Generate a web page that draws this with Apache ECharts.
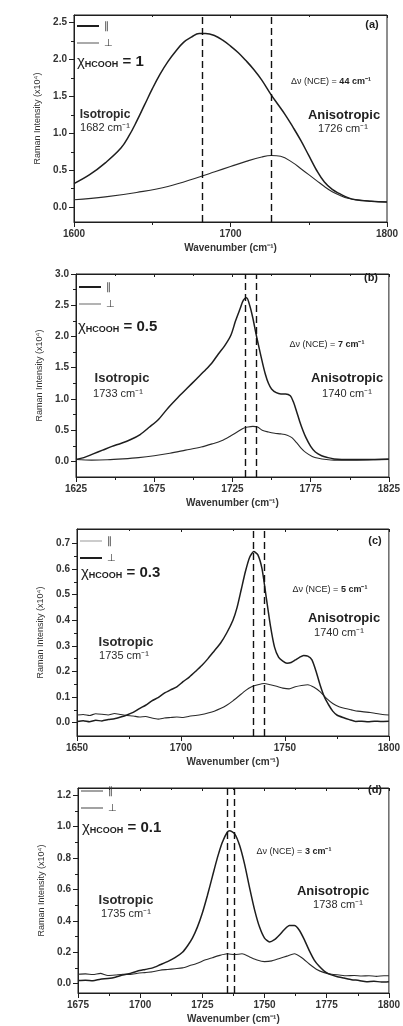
<!DOCTYPE html>
<html>
<head>
<meta charset="utf-8">
<script src="https://cdn.jsdelivr.net/npm/echarts@6/dist/echarts.min.js"></script>
<style>
  html, body { margin: 0; background: #fff; }
  #chart { width: 403px; height: 1026px; }
</style>
</head>
<body>
<div id="chart"></div>
<script>
// ---- (a) x HCOOH = 1
const aParX = [1600, 1610, 1620, 1630, 1635, 1640, 1645, 1650, 1655, 1660, 1665, 1670, 1675, 1680, 1684, 1690, 1695, 1700, 1705, 1710, 1715, 1720, 1726, 1730, 1735, 1740, 1745, 1750, 1755, 1760, 1765, 1770, 1775, 1780, 1790, 1800]
const aParY = [0.32, 0.44, 0.60, 0.80, 0.96, 1.16, 1.38, 1.60, 1.80, 1.97, 2.11, 2.23, 2.30, 2.35, 2.35, 2.32, 2.26, 2.18, 2.09, 1.98, 1.86, 1.72, 1.52, 1.40, 1.25, 1.08, 0.90, 0.70, 0.50, 0.34, 0.24, 0.18, 0.13, 0.10, 0.08, 0.07]
const aPerpX = [1600, 1620, 1640, 1660, 1680, 1690, 1700, 1710, 1720, 1726, 1732, 1740, 1745, 1750, 1755, 1760, 1765, 1770, 1775, 1780, 1790, 1800]
const aPerpY = [0.10, 0.14, 0.20, 0.28, 0.41, 0.48, 0.55, 0.62, 0.68, 0.70, 0.69, 0.60, 0.52, 0.44, 0.36, 0.28, 0.21, 0.16, 0.12, 0.10, 0.08, 0.07]
const aPeaks = [1682, 1726]
const aYLabels = [0, 0.5, 1, 1.5, 2, 2.5]
const aYMinor = [0.25, 0.75, 1.25, 1.75, 2.25]

// ---- (b) x HCOOH = 0.5
const bParX = [1625, 1630, 1636, 1642, 1648, 1654, 1660, 1666, 1672, 1678, 1684, 1690, 1696, 1702, 1708, 1712, 1716, 1720, 1724, 1727, 1730, 1732, 1734, 1736, 1738, 1740, 1742, 1744, 1746, 1748, 1750, 1753, 1756, 1759, 1762, 1764, 1766, 1768, 1770, 1772, 1775, 1778, 1782, 1786, 1790, 1800, 1810, 1825]
const bParY = [0.03, 0.06, 0.12, 0.18, 0.24, 0.29, 0.35, 0.43, 0.55, 0.68, 0.86, 1.02, 1.17, 1.32, 1.47, 1.58, 1.72, 1.85, 2.02, 2.25, 2.45, 2.58, 2.62, 2.50, 2.30, 2.05, 1.82, 1.60, 1.40, 1.25, 1.16, 1.10, 1.08, 1.08, 1.05, 0.95, 0.80, 0.64, 0.50, 0.38, 0.24, 0.15, 0.09, 0.06, 0.04, 0.03, 0.03, 0.04]
const bPerpX = [1625, 1635, 1645, 1655, 1665, 1675, 1685, 1695, 1705, 1712, 1718, 1724, 1728, 1732, 1735, 1738, 1741, 1744, 1748, 1752, 1756, 1760, 1763, 1766, 1769, 1772, 1776, 1780, 1785, 1790, 1800, 1815, 1825]
const bPerpY = [0.03, 0.02, 0.025, 0.04, 0.06, 0.09, 0.13, 0.18, 0.23, 0.28, 0.33, 0.41, 0.47, 0.53, 0.55, 0.56, 0.55, 0.50, 0.47, 0.45, 0.44, 0.42, 0.38, 0.30, 0.21, 0.14, 0.08, 0.05, 0.03, 0.02, 0.02, 0.025, 0.03]
const bPeaks = [1733, 1740]
const bYLabels = [0, 0.5, 1, 1.5, 2, 2.5, 3]
const bYMinor = [0.25, 0.75, 1.25, 1.75, 2.25, 2.75]

// ---- (c) x HCOOH = 0.3
const cParX = [1650, 1653, 1656, 1659, 1662, 1665, 1668, 1671, 1674, 1677, 1680, 1683, 1686, 1689, 1692, 1695, 1698, 1701, 1704, 1707, 1710, 1713, 1716, 1719, 1722, 1725, 1727, 1729, 1731, 1733, 1735, 1737, 1739, 1741, 1743, 1745, 1747, 1749, 1751, 1753, 1755, 1757, 1759, 1761, 1763, 1765, 1767, 1769, 1771, 1773, 1775, 1778, 1781, 1784, 1787, 1790, 1793, 1796, 1800]
const cParY = [0.005, 0.008, 0.004, 0.009, 0.007, 0.012, 0.015, 0.022, 0.030, 0.040, 0.055, 0.068, 0.085, 0.098, 0.115, 0.128, 0.140, 0.160, 0.178, 0.200, 0.223, 0.250, 0.280, 0.310, 0.350, 0.400, 0.450, 0.520, 0.590, 0.645, 0.668, 0.655, 0.600, 0.490, 0.380, 0.295, 0.255, 0.240, 0.232, 0.235, 0.245, 0.255, 0.262, 0.260, 0.245, 0.200, 0.145, 0.100, 0.070, 0.045, 0.030, 0.020, 0.012, 0.005, 0.006, 0.004, 0.006, 0.005, 0.006]
const cPerpX = [1650, 1653, 1656, 1659, 1662, 1665, 1668, 1671, 1674, 1677, 1680, 1683, 1686, 1689, 1692, 1695, 1698, 1701, 1704, 1707, 1710, 1713, 1716, 1719, 1722, 1725, 1728, 1731, 1734, 1737, 1740, 1743, 1746, 1749, 1752, 1755, 1758, 1761, 1764, 1767, 1770, 1773, 1776, 1779, 1782, 1785, 1788, 1791, 1794, 1797, 1800]
const cPerpY = [0.030, 0.032, 0.028, 0.035, 0.033, 0.030, 0.036, 0.032, 0.028, 0.026, 0.022, 0.024, 0.018, 0.014, 0.018, 0.020, 0.022, 0.020, 0.025, 0.028, 0.032, 0.038, 0.045, 0.055, 0.068, 0.085, 0.105, 0.125, 0.140, 0.148, 0.153, 0.148, 0.142, 0.135, 0.132, 0.140, 0.145, 0.148, 0.138, 0.120, 0.095, 0.075, 0.062, 0.055, 0.050, 0.045, 0.042, 0.040, 0.036, 0.032, 0.030]
const cPeaks = [1735, 1740]
const cYLabels = [0, 0.1, 0.2, 0.3, 0.4, 0.5, 0.6, 0.7]
const cYMinor = [0.05, 0.15, 0.25, 0.35, 0.45, 0.55, 0.65]

// ---- (d) x HCOOH = 0.1
const dParX = [1675, 1678, 1681, 1684, 1687, 1690, 1693, 1696, 1699, 1702, 1705, 1708, 1711, 1714, 1717, 1719, 1721, 1723, 1725, 1727, 1729, 1731, 1733, 1735, 1736, 1738, 1740, 1742, 1744, 1746, 1748, 1750, 1752, 1754, 1756, 1758, 1760, 1762, 1764, 1766, 1768, 1770, 1772, 1774, 1776, 1779, 1782, 1785, 1788, 1791, 1794, 1797, 1800]
const dParY = [0.020, 0.022, 0.018, 0.028, 0.032, 0.040, 0.055, 0.065, 0.080, 0.090, 0.100, 0.120, 0.140, 0.165, 0.200, 0.240, 0.290, 0.360, 0.450, 0.560, 0.680, 0.800, 0.900, 0.965, 0.975, 0.955, 0.880, 0.760, 0.610, 0.470, 0.360, 0.290, 0.265, 0.280, 0.310, 0.345, 0.370, 0.370, 0.340, 0.280, 0.210, 0.150, 0.110, 0.080, 0.060, 0.045, 0.035, 0.025, 0.020, 0.012, 0.015, 0.010, 0.012]
const dPerpX = [1675, 1678, 1681, 1684, 1687, 1690, 1693, 1696, 1699, 1702, 1705, 1708, 1711, 1714, 1717, 1720, 1723, 1726, 1729, 1732, 1735, 1738, 1741, 1744, 1747, 1750, 1753, 1756, 1759, 1762, 1765, 1768, 1771, 1774, 1777, 1780, 1783, 1786, 1789, 1792, 1795, 1798, 1800]
const dPerpY = [0.060, 0.062, 0.058, 0.065, 0.052, 0.055, 0.060, 0.058, 0.066, 0.070, 0.075, 0.085, 0.090, 0.095, 0.100, 0.115, 0.130, 0.150, 0.165, 0.180, 0.190, 0.185, 0.190, 0.170, 0.150, 0.140, 0.145, 0.160, 0.175, 0.190, 0.165, 0.125, 0.090, 0.070, 0.060, 0.055, 0.050, 0.052, 0.048, 0.050, 0.046, 0.050, 0.050]
const dPeaks = [1735, 1738]
const dYLabels = [0, 0.2, 0.4, 0.6, 0.8, 1.0, 1.2]
const dYMinor = [0.1, 0.3, 0.5, 0.7, 0.9, 1.1]

// text
const tags = ['(a)', '(b)', '(c)', '(d)']
const fractions = ['1', '0.5', '0.3', '0.1']
const nceShift = ['44', '7', '5', '3']
const isoPeak = ['1682', '1733', '1735', '1735']
const anisoPeak = ['1726', '1740', '1740', '1738']

const FONT = '"Liberation Sans", Arial, sans-serif'
const INK = '#1e1e1e'
const THICK = 'path://M0,0H22V2H0Z'
const THIN = 'path://M0,0H22V1H0Z'

const zip = (xs, ys) => xs.map((x, i) => [x, ys[i]])

// layout of each panel, pixels
const panels = [
  { grid: { left: 74, top: 15, width: 313, height: 207 }, x: [1600, 1800, 100], y: [-0.2, 2.6],
    yl: aYLabels, ym: aYMinor, par: zip(aParX, aParY), perp: zip(aPerpX, aPerpY), peaks: aPeaks, smooth: 0.4,
    legTop: 21, parLeg: [THICK, INK], perpLeg: [THIN, '#555'], isoSize: 12,
    pos: { tag: [372, 25], chi: [77, 62], nce: [331, 82], iso: [105, 115], isoPk: [105, 128], an: [344, 115], anPk: [343, 129] } },
  { grid: { left: 76, top: 274, width: 314, height: 203 }, x: [1625, 1825, 50], y: [-0.25, 3.0],
    yl: bYLabels, ym: bYMinor, par: zip(bParX, bParY), perp: zip(bPerpX, bPerpY), peaks: bPeaks, smooth: 0.3,
    legTop: 282, parLeg: [THICK, INK], perpLeg: [THIN, '#666'], isoSize: 13,
    pos: { tag: [371, 278], chi: [78, 327], nce: [327, 345], iso: [122, 378], isoPk: [118, 394], an: [347, 378], anPk: [347, 394] } },
  { grid: { left: 77, top: 529, width: 313, height: 207 }, x: [1650, 1800, 50], y: [-0.052, 0.756],
    yl: cYLabels, ym: cYMinor, par: zip(cParX, cParY), perp: zip(cPerpX, cPerpY), peaks: cPeaks, smooth: 0.2,
    legTop: 536, parLeg: [THIN, '#999'], perpLeg: [THICK, INK], isoSize: 13,
    pos: { tag: [375, 541], chi: [81, 573], nce: [330, 590], iso: [126, 642], isoPk: [124, 656], an: [344, 618], anPk: [339, 633] } },
  { grid: { left: 78, top: 788, width: 313, height: 205 }, x: [1675, 1800, 25], y: [-0.06, 1.247],
    yl: dYLabels, ym: dYMinor, par: zip(dParX, dParY), perp: zip(dPerpX, dPerpY), peaks: dPeaks, smooth: 0.2,
    legTop: 786, parLeg: [THIN, '#444'], perpLeg: [THIN, '#444'], isoSize: 13,
    pos: { tag: [375, 790], chi: [82, 828], nce: [294, 852], iso: [126, 900], isoPk: [126, 914], an: [333, 891], anPk: [338, 905] } }
]

const grid = [], xAxis = [], yAxis = [], series = [], legend = [], graphic = []

panels.forEach((p, i) => {
  grid.push(Object.assign({ show: true, borderColor: INK, borderWidth: 1 }, p.grid))

  // bottom axis with labels
  xAxis.push({
    type: 'value', gridIndex: i, position: 'bottom', min: p.x[0], max: p.x[1], interval: p.x[2],
    axisLine: { show: true, onZero: false, lineStyle: { color: INK, width: 1 } },
    axisTick: { length: 5, lineStyle: { color: INK } },
    minorTick: { show: true, splitNumber: 2, length: 3, lineStyle: { color: INK } },
    axisLabel: { formatter: v => String(v), fontFamily: FONT, fontSize: 10, fontWeight: 'bold', color: '#333', margin: 7, showMinLabel: true, showMaxLabel: true },
    splitLine: { show: false },
    name: 'Wavenumber (cm⁻¹)', nameLocation: 'middle', nameGap: 21,
    nameTextStyle: { fontFamily: FONT, fontSize: 10, fontWeight: 'bold', color: '#333' }
  })
  // top frame ticks
  xAxis.push({
    type: 'value', gridIndex: i, position: 'top', min: p.x[0], max: p.x[1], interval: p.x[2],
    axisLine: { show: true, onZero: false, lineStyle: { color: INK, width: 1 } },
    axisTick: { inside: true, length: 3, lineStyle: { color: INK } },
    minorTick: { show: true, splitNumber: 2, length: 2, lineStyle: { color: INK } },
    axisLabel: { show: false }, splitLine: { show: false }
  })

  yAxis.push({
    type: 'value', gridIndex: i, position: 'left', min: p.y[0], max: p.y[1],
    axisLine: { show: true, onZero: false, lineStyle: { color: INK, width: 1 } },
    axisTick: { customValues: p.yl, length: 5, lineStyle: { color: INK } },
    axisLabel: { customValues: p.yl, formatter: v => v.toFixed(1), fontFamily: FONT, fontSize: 10, fontWeight: 'bold', color: '#333', margin: 7 },
    splitLine: { show: false },
    name: 'Raman Intensity (x10⁴)', nameLocation: 'middle', nameGap: 27,
    nameTextStyle: { fontFamily: FONT, fontSize: 9, color: '#333' }
  })
  // minor ticks on the left
  yAxis.push({
    type: 'value', gridIndex: i, position: 'left', min: p.y[0], max: p.y[1],
    axisLine: { show: false },
    axisTick: { customValues: p.ym, length: 3, lineStyle: { color: INK } },
    axisLabel: { show: false }, splitLine: { show: false }
  })

  series.push({
    name: '∥', type: 'line', xAxisIndex: 2 * i, yAxisIndex: 2 * i, data: p.par,
    symbol: 'none', smooth: p.smooth, itemStyle: { color: INK }, lineStyle: { color: INK, width: 1.5 }, z: 3,
    markLine: {
      silent: true, symbol: ['none', 'none'], label: { show: false },
      lineStyle: { type: [7, 4], color: '#111', width: 1.4 },
      data: p.peaks.map(v => ({ xAxis: v }))
    }
  })
  series.push({
    name: '⊥', type: 'line', xAxisIndex: 2 * i, yAxisIndex: 2 * i, data: p.perp,
    symbol: 'none', smooth: p.smooth, itemStyle: { color: '#2a2a2a' }, lineStyle: { color: '#2a2a2a', width: 1.1 }, z: 2
  })

  legend.push({
    orient: 'vertical', left: p.grid.left + 3, top: p.legTop, padding: 0,
    itemGap: 7, itemWidth: 22, itemHeight: 14, selectedMode: false,
    textStyle: { fontFamily: FONT, fontSize: 10, color: '#333' },
    data: [
      { name: '∥', icon: p.parLeg[0], itemStyle: { color: p.parLeg[1] } },
      { name: '⊥', icon: p.perpLeg[0], itemStyle: { color: p.perpLeg[1] } }
    ]
  })

  const t = p.pos
  const txt = (xy, text, rich, align) => ({
    type: 'text', x: xy[0], y: xy[1], silent: true,
    style: { text, rich, fill: INK, font: '11px ' + FONT, textAlign: align || 'center', textVerticalAlign: 'middle' }
  })
  graphic.push(
    txt(t.tag, '{b|' + tags[i] + '}', { b: { fontFamily: FONT, fontSize: 11, fontWeight: 'bold', fill: INK } }),
    txt(t.chi, '{c|χ}{s|HCOOH}{e| = ' + fractions[i] + '}', {
      c: { fontFamily: FONT, fontSize: 15, fill: INK, verticalAlign: 'middle' },
      s: { fontFamily: FONT, fontSize: 9, fontWeight: 'bold', fill: INK, verticalAlign: 'bottom' },
      e: { fontFamily: FONT, fontSize: 15, fontWeight: 'bold', fill: INK, verticalAlign: 'middle' }
    }, 'left'),
    txt(t.nce, '{n|Δν (NCE) = }{b|' + nceShift[i] + ' cm⁻¹}', {
      n: { fontFamily: FONT, fontSize: 9, fill: INK },
      b: { fontFamily: FONT, fontSize: 9, fontWeight: 'bold', fill: INK }
    }),
    txt(t.iso, '{h|Isotropic}', { h: { fontFamily: FONT, fontSize: p.isoSize, fontWeight: 'bold', fill: '#2a2a2a' } }),
    txt(t.isoPk, '{h|' + isoPeak[i] + ' cm⁻¹}', { h: { fontFamily: FONT, fontSize: 11, fill: '#2a2a2a' } }),
    txt(t.an, '{h|Anisotropic}', { h: { fontFamily: FONT, fontSize: 13, fontWeight: 'bold', fill: INK } }),
    txt(t.anPk, '{h|' + anisoPeak[i] + ' cm⁻¹}', { h: { fontFamily: FONT, fontSize: 11, fill: '#2a2a2a' } })
  )
})

const chart = echarts.init(document.getElementById('chart'), null, { renderer: 'canvas' })
chart.setOption({
  backgroundColor: '#fff',
  color: [INK, '#2a2a2a'],
  animation: false,
  grid, xAxis, yAxis, series, legend, graphic
})
</script>
</body>
</html>
